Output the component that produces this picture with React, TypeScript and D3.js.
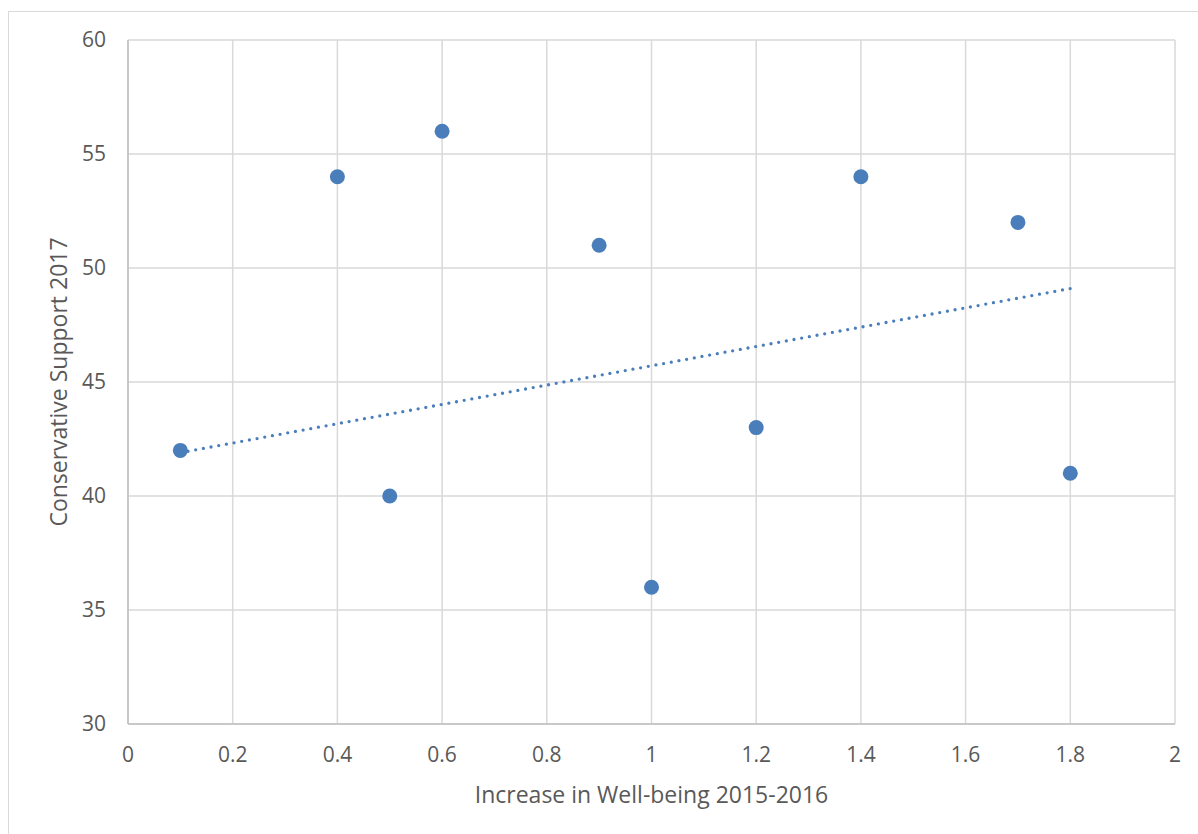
import React from "react";
import * as d3 from "d3";

const xValues = [0.1, 0.4, 0.5, 0.6, 0.9, 1.0, 1.2, 1.4, 1.7, 1.8];
const yValues = [42, 54, 40, 56, 51, 36, 43, 54, 52, 41];
const trendX = [0.1, 1.8];
const trendY = [41.9, 49.1];
const xTicks = [0, 0.2, 0.4, 0.6, 0.8, 1, 1.2, 1.4, 1.6, 1.8, 2];
const yTicks = [30, 35, 40, 45, 50, 55, 60];
const xTitle = "Increase in Well-being 2015-2016";
const yTitle = "Conservative Support 2017";

const W = 1198;
const H = 834;
const left = 128;
const right = 1175;
const top = 40;
const bottom = 724;
const font = "'Open Sans', 'Noto Sans', sans-serif";
const dotColor = "#4a7ebb";

export default function App() {
  const x = d3.scaleLinear().domain([0, 2]).range([left, right]);
  const y = d3.scaleLinear().domain([30, 60]).range([bottom, top]);
  const trend = d3
    .line<number>()
    .x((d) => x(d))
    .y((_, i) => y(trendY[i]))(trendX) as string;

  return (
    <svg
      width={W}
      height={H}
      style={{ position: "absolute", left: 0, top: 0, background: "#fff" }}
    >
      <rect x={8.5} y={11.5} width={1300} height={1000} fill="#fff" stroke="#d9d9d9" strokeWidth={1} />
      {xTicks.map((t) => (
        <line key={"gx" + t} x1={x(t)} x2={x(t)} y1={top} y2={bottom} stroke="#d9d9d9" strokeWidth={1.5} />
      ))}
      {yTicks.map((t) => (
        <line key={"gy" + t} x1={left} x2={right} y1={y(t)} y2={y(t)} stroke="#d9d9d9" strokeWidth={1.5} />
      ))}
      <line x1={left} x2={left} y1={top} y2={bottom} stroke="#bfbfbf" strokeWidth={1.5} />
      <line x1={left} x2={right} y1={bottom} y2={bottom} stroke="#bfbfbf" strokeWidth={1.5} />
      {yTicks.map((t) => (
        <text key={"ly" + t} x={106} y={y(t)} dy="0.35em" textAnchor="end" fontFamily={font} fontSize={21} fill="#595959">
          {t}
        </text>
      ))}
      {xTicks.map((t) => (
        <text key={"lx" + t} x={x(t)} y={762} textAnchor="middle" fontFamily={font} fontSize={21} fill="#595959">
          {t}
        </text>
      ))}
      <text x={(left + right) / 2} y={803} textAnchor="middle" fontFamily={font} fontSize={23} fill="#595959">
        {xTitle}
      </text>
      <text
        transform={`translate(67,${(top + bottom) / 2}) rotate(-90)`}
        textAnchor="middle"
        fontFamily={font}
        fontSize={23}
        fill="#595959"
      >
        {yTitle}
      </text>
      {xValues.map((v, i) => (
        <circle key={"p" + i} cx={x(v)} cy={y(yValues[i])} r={7.5} fill={dotColor} />
      ))}
      <path d={trend} fill="none" stroke={dotColor} strokeWidth={3.3} strokeLinecap="round" strokeDasharray="0 7.8" />
    </svg>
  );
}
